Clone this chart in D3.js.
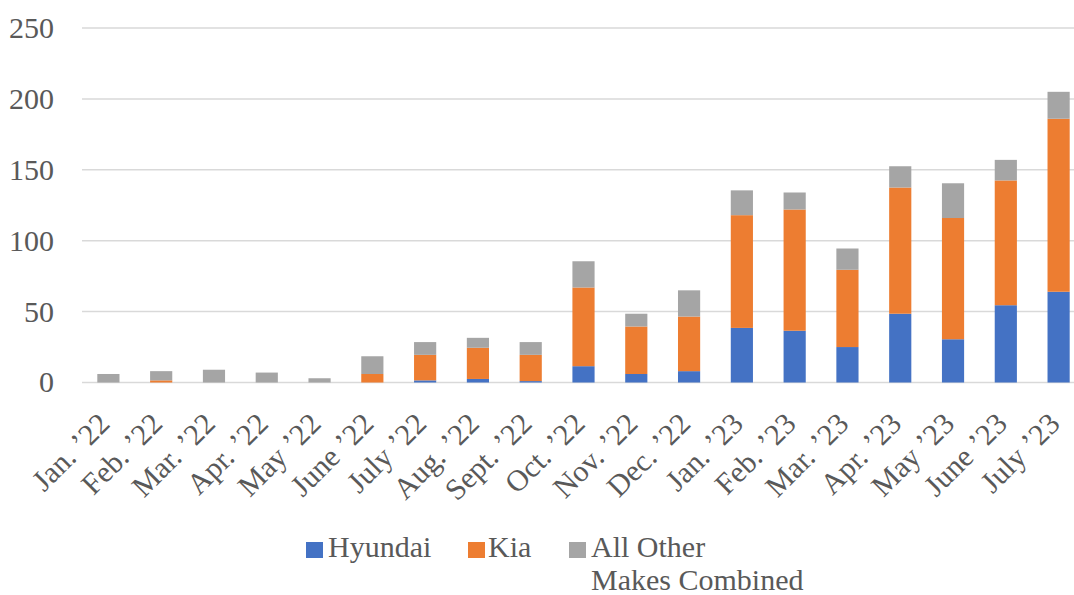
<!DOCTYPE html>
<html>
<head>
  <meta charset="utf-8">
  <script src="https://d3js.org/d3.v7.min.js"></script>
</head>
<style>
  body { margin: 0; background: #fff; }
  text { font-family: "Liberation Serif", "Times New Roman", serif; fill: #595959; }
</style>
<body>
  <svg width="1074" height="595"></svg>

  <script>
    // Data
    const months = ["Jan. ’22", "Feb. ’22", "Mar. ’22", "Apr. ’22", "May ’22", "June ’22",
      "July ’22", "Aug. ’22", "Sept. ’22", "Oct. ’22", "Nov. ’22", "Dec. ’22",
      "Jan. ’23", "Feb. ’23", "Mar. ’23", "Apr. ’23", "May ’23", "June ’23", "July ’23"];
    const hyundai = [0, 0, 0, 0, 0, 0, 1.5, 2.5, 1, 11.5, 6, 8, 38.5, 36.5, 25, 48.5, 30.5, 54.5, 64];
    const kia     = [0, 1.5, 0, 0, 0, 6, 18, 22, 18.5, 55.5, 33.5, 38.5, 79.5, 85.5, 54.5, 89, 85.5, 88, 122];
    const other   = [6, 6.5, 9, 7, 3, 12.5, 9, 7, 9, 18.5, 9, 18.5, 17.5, 12, 15, 15, 24.5, 14.5, 19];
    const yTicks = [0, 50, 100, 150, 200, 250];
    const seriesNames = ["Hyundai", "Kia", "All Other Makes Combined"];
    const colors = ["#4472C4", "#ED7D31", "#A5A5A5"];

    const table = months.map((m, i) => ({month: m, h: hyundai[i], k: kia[i], o: other[i]}));
    const keys = ["h", "k", "o"];

    const svg = d3.select('svg');
    const plotLeft = 82, plotRight = 1085, plotTop = 28, plotBottom = 382.5;

    const x = d3.scaleBand()
      .domain(months)
      .range([plotLeft, plotRight])
      .paddingInner(0.58)
      .paddingOuter(0.29);

    const y = d3.scaleLinear()
      .domain([0, 250])
      .range([plotBottom, plotTop]);

    // gridlines
    svg.append('g')
      .selectAll('line')
      .data(yTicks)
      .enter()
      .append('line')
      .attr('x1', plotLeft)
      .attr('x2', 1074)
      .attr('y1', d => y(d))
      .attr('y2', d => y(d))
      .attr('stroke', '#d9d9d9')
      .attr('stroke-width', 1.5);

    // y labels
    svg.append('g')
      .selectAll('text')
      .data(yTicks)
      .enter()
      .append('text')
      .attr('x', 54)
      .attr('y', d => y(d))
      .attr('dy', '0.33em')
      .attr('text-anchor', 'end')
      .style('font-size', '30px')
      .text(d => d);

    // stacked bars
    const stack = d3.stack().keys(keys)(table);
    svg.append('g')
      .selectAll('g')
      .data(stack)
      .enter()
      .append('g')
      .attr('fill', (d, i) => colors[i])
      .selectAll('rect')
      .data(d => d)
      .enter()
      .append('rect')
      .attr('x', d => x(d.data.month))
      .attr('width', x.bandwidth())
      .attr('y', d => y(d[1]))
      .attr('height', d => y(d[0]) - y(d[1]));

    // x labels
    svg.append('g')
      .selectAll('text')
      .data(months)
      .enter()
      .append('text')
      .attr('transform', d => `translate(${x(d) + x.bandwidth() / 2 + 3},${plotBottom + 43}) rotate(-45)`)
      .attr('text-anchor', 'end')
      .style('font-size', '30px')
      .text(d => d);

    // legend
    const legendX = [306, 468, 569];
    const legend = svg.append('g');
    seriesNames.forEach((name, i) => {
      legend.append('rect')
        .attr('x', legendX[i])
        .attr('y', 542)
        .attr('width', 17)
        .attr('height', 16)
        .attr('fill', colors[i]);
    });
    legend.append('text').attr('x', 328).attr('y', 557).style('font-size', '30px').text('Hyundai');
    legend.append('text').attr('x', 488).attr('y', 557).style('font-size', '30px').text('Kia');
    const t = legend.append('text').attr('x', 591).attr('y', 557).style('font-size', '30px');
    t.append('tspan').attr('x', 591).text('All Other');
    t.append('tspan').attr('x', 591).attr('dy', '33px').text('Makes Combined');
  </script>
</body>
</html>
